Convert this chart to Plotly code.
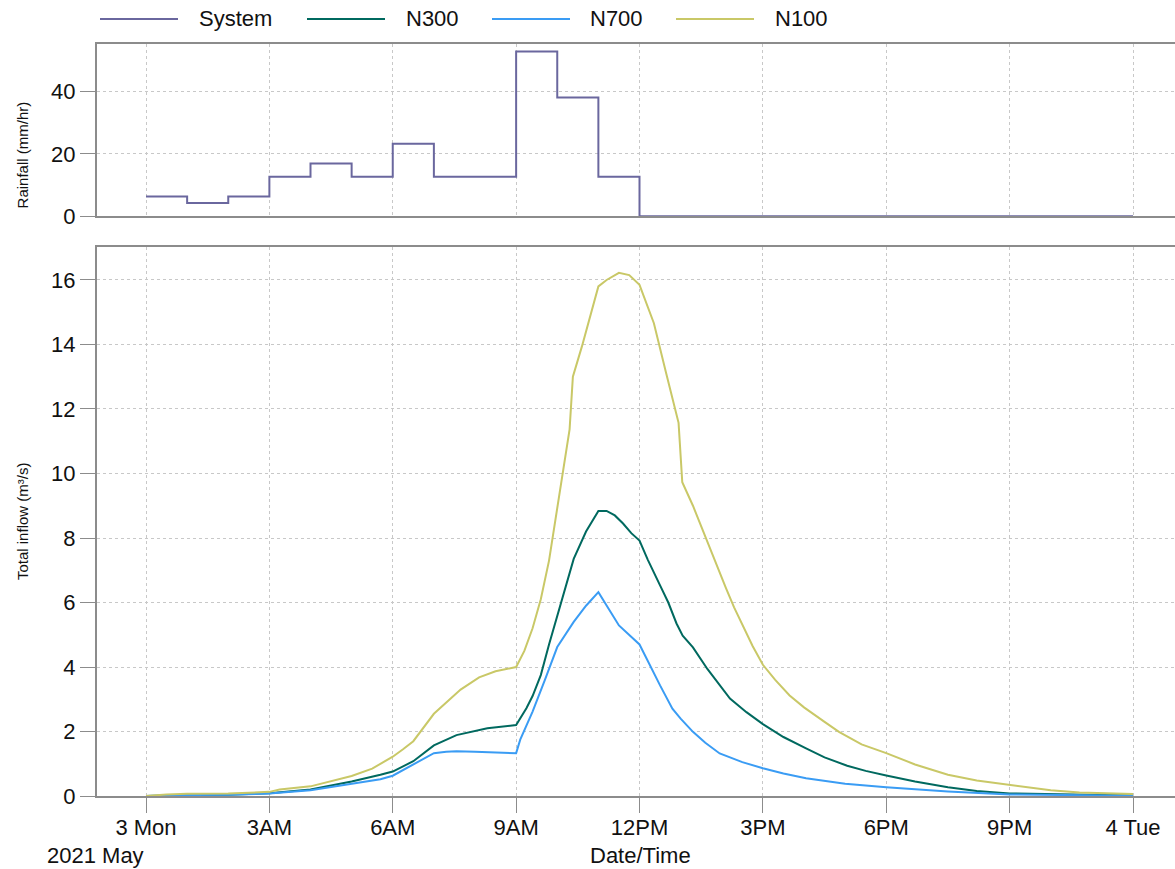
import pandas as pd
import plotly.graph_objects as go

W, H = 1175, 869
base = pd.Timestamp("2021-05-03 00:00")

# ---- data (hours from 2021-05-03 00:00) ----
rain_hours = [0, 1, 2, 3, 4, 5, 6, 7, 8, 9, 10, 11, 12, 24]
rain_mmhr = [6.35, 4.2, 6.35, 12.7, 16.9, 12.7, 23.3, 12.7, 12.7, 52.9, 38.1, 12.7, 0, 0]

n100_hours = [0, 0.5, 1, 2, 3, 3.25, 4, 4.5, 5, 5.5, 6, 6.25, 6.5, 7, 7.3, 7.65, 8.1, 8.5, 9,
              9.2, 9.4, 9.6, 9.8, 10.0, 10.15, 10.3, 10.38, 10.6, 11.0, 11.2, 11.5, 11.75, 12.0,
              12.35, 12.65, 12.95, 12.98, 13.04, 13.3, 13.5, 13.7, 13.9, 14.1, 14.3, 14.5, 14.75,
              15.0, 15.3, 15.65, 16.0, 16.5, 16.85, 17.4, 18.0, 18.7, 19.5, 20.2, 21.0, 22.0,
              22.7, 24]
n100_flow = [0, 0.05, 0.07, 0.08, 0.13, 0.2, 0.3, 0.45, 0.62, 0.85, 1.22, 1.45, 1.7, 2.55, 2.9,
             3.3, 3.68, 3.87, 4.0, 4.5, 5.2, 6.1, 7.3, 8.9, 10.2, 11.37, 13.0, 13.94, 15.8, 16.0,
             16.22, 16.15, 15.85, 14.66, 13.1, 11.57, 10.96, 9.73, 9.0, 8.35, 7.7, 7.05, 6.45,
             5.85, 5.3, 4.65, 4.07, 3.6, 3.12, 2.75, 2.3, 1.99, 1.6, 1.33, 0.98, 0.66, 0.48,
             0.35, 0.18, 0.11, 0.06]

n300_hours = [0, 0.5, 1, 2, 3, 4, 5, 5.7, 6, 6.5, 7, 7.55, 8.3, 9, 9.1, 9.25, 9.4, 9.6, 9.8,
              10.0, 10.2, 10.4, 10.7, 11.0, 11.2, 11.4, 11.6, 11.8, 12.0, 12.2, 12.5, 12.7,
              12.9, 13.05, 13.3, 13.65, 14.2, 14.6, 15.0, 15.5, 16.05, 16.5, 17.05, 17.5, 18.0,
              18.7, 19.5, 20.2, 21.0, 22.5, 24]
n300_flow = [0, 0.02, 0.03, 0.04, 0.09, 0.2, 0.45, 0.66, 0.76, 1.08, 1.57, 1.89, 2.1, 2.2, 2.4,
             2.72, 3.1, 3.75, 4.7, 5.6, 6.5, 7.35, 8.2, 8.84, 8.84, 8.7, 8.45, 8.15, 7.92, 7.33,
             6.53, 6.0, 5.35, 4.97, 4.61, 3.94, 3.02, 2.6, 2.23, 1.83, 1.48, 1.2, 0.94, 0.78,
             0.64, 0.45, 0.27, 0.16, 0.08, 0.04, 0.02]

n700_hours = [0, 0.5, 1, 2, 3, 4, 5, 5.7, 6, 6.5, 7, 7.3, 7.55, 8.0, 8.5, 9, 9.1, 9.4, 9.7, 10.0,
              10.4, 10.7, 11.0, 11.5, 12.0, 12.25, 12.5, 12.8, 13.0, 13.3, 13.6, 13.95, 14.5,
              15, 15.5, 16.05, 17, 18, 19.5, 21, 22.5, 24]
n700_flow = [0, 0.02, 0.03, 0.04, 0.08, 0.18, 0.38, 0.52, 0.63, 0.97, 1.33, 1.37, 1.39, 1.37,
             1.35, 1.33, 1.75, 2.62, 3.6, 4.62, 5.4, 5.9, 6.32, 5.29, 4.7, 4.05, 3.43, 2.71, 2.4,
             1.99, 1.65, 1.32, 1.05, 0.86, 0.7, 0.55, 0.38, 0.27, 0.14, 0.05, 0.02, 0.01]

tick_hours = [0, 3, 6, 9, 12, 15, 18, 21, 24]
tick_labels = ["3 Mon", "3AM", "6AM", "9AM", "12PM", "3PM", "6PM", "9PM", "4 Tue"]
rain_ticks = [0, 20, 40]
flow_ticks = [0, 2, 4, 6, 8, 10, 12, 14, 16]

series_names = ["System", "N300", "N700", "N100"]
series_colors = ["#6a679e", "#00695f", "#3a9cf4", "#c9c867"]


def to_dt(hours):
    return [base + pd.Timedelta(hours=h) for h in hours]


def P(t):
    """target screen pixel row -> layout pixel row (compensates render squeeze)"""
    return (t + 1.0) / 0.9887


def py(t):
    return 1 - P(t) / H


FONT = "Liberation Sans, Arial, sans-serif"
fig = go.Figure()

fig.add_trace(go.Scatter(x=to_dt(rain_hours), y=rain_mmhr, mode="lines", line_shape="hv",
                         line=dict(color=series_colors[0], width=2), name=series_names[0],
                         xaxis="x", yaxis="y"))
for name, hrs, vals, col in [(series_names[1], n300_hours, n300_flow, series_colors[1]),
                             (series_names[2], n700_hours, n700_flow, series_colors[2]),
                             (series_names[3], n100_hours, n100_flow, series_colors[3])]:
    fig.add_trace(go.Scatter(x=to_dt(hrs), y=vals, mode="lines",
                             line=dict(color=col, width=2), name=name,
                             xaxis="x2", yaxis="y2"))

# pixel geometry (target screen pixels)
x_left_px, x_right_px = 97, 1175
px_per_hr = (1133 - 146) / 24.0
x0_hr = (x_left_px - 146) / px_per_hr
x1_hr = (x_right_px - 146) / px_per_hr
xrange = [base + pd.Timedelta(hours=x0_hr), base + pd.Timedelta(hours=x1_hr)]

top_y0, top_y1 = 216, 43
bot_y0, bot_y1 = 798, 246.5
top_ppu = (216 - 91) / 40.0
bot_ppu = (798 - 280) / 16.0

grid = dict(showgrid=True, gridcolor="#c8c8c8", griddash="dot", gridwidth=1)
axline = dict(showline=True, linecolor="#8c8c8c", linewidth=2)
tickfont = dict(family=FONT, size=22, color="#111")

common_x = dict(type="date", range=xrange, tickvals=to_dt(tick_hours), zeroline=False,
                domain=[x_left_px / W, 1], mirror=True, **grid, **axline)

fig.update_layout(
    width=W, height=H,
    margin=dict(l=0, r=0, t=0, b=0),
    paper_bgcolor="white", plot_bgcolor="white",
    showlegend=False,
    font=dict(family=FONT, color="#111"),
    xaxis=dict(anchor="y", showticklabels=False, ticks="", **common_x),
    yaxis=dict(domain=[py(top_y0), py(top_y1)], range=[0, (top_y0 - top_y1) / top_ppu],
               tickvals=rain_ticks, ticks="outside", ticklen=15, tickcolor="#8c8c8c",
               tickwidth=1, tickfont=tickfont, zeroline=False, **grid, **axline),
    xaxis2=dict(anchor="y2", ticktext=tick_labels, ticks="outside", ticklen=15,
                ticklabelstandoff=-4,
                tickcolor="#8c8c8c", tickwidth=1, tickfont=tickfont, **common_x),
    yaxis2=dict(domain=[py(bot_y0), py(bot_y1)], range=[0, (bot_y0 - bot_y1) / bot_ppu],
                tickvals=flow_ticks, ticks="outside", ticklen=15,
                tickcolor="#8c8c8c", tickwidth=1, tickfont=tickfont, zeroline=False,
                **grid, **axline),
)

ann = []
ann.append(dict(text="Rainfall (mm/hr)", x=22 / W, y=py(155), xref="paper", yref="paper",
                xanchor="center", yanchor="middle", textangle=-90, showarrow=False,
                font=dict(family=FONT, size=15, color="#111")))
ann.append(dict(text="Total inflow (m³/s)", x=22 / W, y=py(522), xref="paper", yref="paper",
                xanchor="center", yanchor="middle", textangle=-90, showarrow=False,
                font=dict(family=FONT, size=15, color="#111")))
ann.append(dict(text="Date/Time", x=640 / W, y=py(858), xref="paper", yref="paper",
                xanchor="center", yanchor="middle", showarrow=False,
                font=dict(family=FONT, size=22, color="#111")))
ann.append(dict(text="2021 May", x=45 / W, y=py(858), xref="paper", yref="paper",
                xanchor="left", yanchor="middle", showarrow=False,
                font=dict(family=FONT, size=22, color="#111")))

# legend (drawn manually to match the long sample lines)
shapes = []
leg_line_x = [100, 307, 492, 676]
leg_text_x = [197, 404, 588, 773]
for i in range(4):
    shapes.append(dict(type="line", xref="paper", yref="paper",
                       x0=leg_line_x[i] / W, x1=(leg_line_x[i] + 78) / W,
                       y0=py(18), y1=py(18),
                       line=dict(color=series_colors[i], width=2)))
    ann.append(dict(text=series_names[i], x=leg_text_x[i] / W, y=py(18), xref="paper",
                    yref="paper", xanchor="left", yanchor="middle", showarrow=False,
                    font=dict(family=FONT, size=22, color="#111")))

fig.update_layout(annotations=ann, shapes=shapes)

fig.write_html("out.html", config={"displayModeBar": False},
               post_script="document.body.style.margin='0';document.body.style.overflow='hidden';")
